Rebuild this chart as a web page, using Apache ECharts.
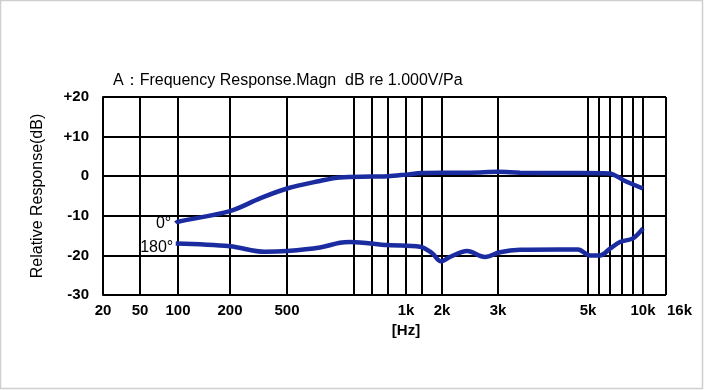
<!DOCTYPE html>
<html><head><meta charset="utf-8">
<script src="https://cdn.jsdelivr.net/npm/echarts@6/dist/echarts.min.js"></script>
<style>html,body{margin:0;padding:0;background:#fff}#c{width:704px;height:390px}</style>
</head><body><div id="c"></div>
<script>
// ---- text ----
const titleText = 'A：Frequency Response.Magn  dB re 1.000V/Pa';
const yAxisName = 'Relative Response(dB)';
const seriesNames = ['0°', '180°'];

// ---- x tick labels (Hz) ----
const xLabelFreqs = [20, 50, 100, 200, 500, 1000, 2000, 3000, 5000, 10000, 16000];
const xLabelTexts = ['20', '50', '100', '200', '500', '1k', '2k', '3k', '5k', '10k', '16k'];
// vertical grid lines (Hz)
const gridFreqs = [50, 100, 200, 500, 700, 800, 900, 1000, 1500, 2000, 3000, 5000, 6000, 7000, 8000, 9000, 10000, 16000];

// ---- y axis (dB) ----
const yMin = -30, yMax = 20, yStep = 10;

// ---- series: 0 degrees ----
const freq0 = [96, 100, 200, 324, 500, 590, 652, 800, 900, 1000, 1500, 2000, 2450, 3000, 3400, 4500, 6900, 8260, 10000];
const db0   = [-11.9, -11.5, -8.8, -5.6, -3.1, -1.2, -0.3, -0.1, 0.0, 0.4, 0.8, 0.9, 0.9, 1.1, 0.9, 0.8, 0.7, -1.2, -3.1];

// ---- series: 180 degrees ----
const freq180 = [96, 200, 351, 500, 590, 652, 686, 900, 1426, 1732, 1971, 2119, 2398, 2730, 3034, 3400, 4266, 4723, 5167, 6084, 7000, 7823, 9000, 10000];
const db180   = [-17.0, -17.7, -19.1, -18.9, -18.0, -16.8, -16.6, -17.4, -17.8, -19.4, -21.5, -20.4, -18.9, -20.4, -19.2, -18.6, -18.5, -18.5, -20.0, -20.0, -18.3, -16.6, -15.7, -13.2];

// ---- the chart's (non-uniform) frequency scale: Hz -> axis units ----
const scaleFreqs = [20, 50, 100, 200, 500, 700, 800, 900, 1000, 1500, 2000, 3000, 5000, 6000, 7000, 8000, 9000, 10000, 16000];
const scaleUnits = [0, 37, 75, 127, 184, 251, 269, 285, 303, 319, 339, 395, 485, 496, 507, 519, 530, 540, 563];

function pos(f) {
  for (let i = 0; i < scaleFreqs.length - 1; i++) {
    const a = scaleFreqs[i], b = scaleFreqs[i + 1];
    if (f <= b || i === scaleFreqs.length - 2) {
      const t = Math.log(f / a) / Math.log(b / a);
      return scaleUnits[i] + t * (scaleUnits[i + 1] - scaleUnits[i]);
    }
  }
}

const FONT = '"Liberation Sans", Arial, sans-serif';
const BLUE = '#1b2ca0';
const LABEL_MARGIN = 6, LABEL_LH = 20;
// all labels but the last sit on the axis; the last (16k) is set just right of the frame
const axisLabelPos = xLabelFreqs.slice(0, -1).map(pos);

const chart = echarts.init(document.getElementById('c'), null, { renderer: 'canvas' });
chart.setOption({
  backgroundColor: '#fff',
  animation: false,
  title: {
    text: titleText, left: 113, top: 73, padding: 0,
    textStyle: { fontFamily: FONT, fontSize: 16, fontWeight: 'normal', color: '#000' }
  },
  grid: { left: 103, right: 38, top: 97, bottom: 95, containLabel: false },
  xAxis: {
    type: 'value', min: pos(20), max: pos(16000),
    axisLine: { show: true, lineStyle: { color: '#000', width: 2 } },
    axisTick: { show: false },
    splitLine: { show: false },
    axisLabel: {
      customValues: axisLabelPos,
      showMaxLabel: true, showMinLabel: true, hideOverlap: false,
      margin: LABEL_MARGIN,
      fontFamily: FONT, fontSize: 15, fontWeight: 'bold', color: '#000', lineHeight: LABEL_LH,
      formatter: function (v) {
        let i = -1, best = 1e9;
        axisLabelPos.forEach((p, k) => { const d = Math.abs(p - v); if (d < best) { best = d; i = k; } });
        const t = xLabelTexts[i];
        return t === '1k' ? '1k\n[Hz]' : t;
      }
    }
  },
  yAxis: {
    type: 'value', min: yMin, max: yMax, interval: yStep,
    name: yAxisName, nameLocation: 'middle', nameGap: 57,
    nameTextStyle: { fontFamily: FONT, fontSize: 16, color: '#000' },
    axisLine: { show: true, lineStyle: { color: '#000', width: 2 } },
    axisTick: { show: false },
    splitLine: { show: true, lineStyle: { color: '#000', width: 2 } },
    axisLabel: {
      margin: 14, fontFamily: FONT, fontSize: 15, fontWeight: 'bold', color: '#000',
      formatter: v => (v > 0 ? '+' + v : String(v))
    }
  },
  series: [
    {
      type: 'line', data: [], z: 1, silent: true,
      markLine: {
        silent: true, symbol: ['none', 'none'], label: { show: false },
        lineStyle: { color: '#000', width: 2, type: 'solid' },
        data: gridFreqs.map(f => ({ xAxis: pos(f) }))
      }
    },
    {
      name: seriesNames[0], type: 'line', z: 5, smooth: 0.35, showSymbol: false,
      lineStyle: { color: BLUE, width: 4.5 },
      data: freq0.map((f, i) => [pos(f), db0[i]]),
      markPoint: {
        symbol: 'circle', symbolSize: 1, itemStyle: { color: 'rgba(0,0,0,0)' },
        data: [{ coord: [pos(freq0[0]), db0[0]] }],
        label: { show: true, position: 'left', distance: 4, formatter: seriesNames[0],
                 fontFamily: FONT, fontSize: 16, color: '#000' }
      }
    },
    {
      name: seriesNames[1], type: 'line', z: 5, smooth: 0.35, showSymbol: false,
      lineStyle: { color: BLUE, width: 4.5 },
      data: freq180.map((f, i) => [pos(f), db180[i]]),
      markPoint: {
        symbol: 'circle', symbolSize: 1, itemStyle: { color: 'rgba(0,0,0,0)' },
        data: [{ coord: [pos(freq180[0]), db180[0]] }],
        label: { show: true, position: 'left', distance: 2, offset: [0, 4], formatter: seriesNames[1],
                 fontFamily: FONT, fontSize: 16, color: '#000' }
      }
    }
  ]
});

// last tick label (16k), placed from the axis' own pixel mapping, left-aligned at the frame edge
const lastX = chart.convertToPixel({ xAxisIndex: 0 }, pos(xLabelFreqs[xLabelFreqs.length - 1]));
const baseY = chart.convertToPixel({ yAxisIndex: 0 }, yMin);
chart.setOption({
  graphic: [
    {
      type: 'text', x: lastX + 1, y: baseY + LABEL_MARGIN + LABEL_LH / 2, silent: true,
      style: { text: xLabelTexts[xLabelTexts.length - 1], fontFamily: FONT, fontSize: 15, fontWeight: 'bold',
               fill: '#000', align: 'left', verticalAlign: 'middle' }
    },
    {
      type: 'rect', shape: { x: 0.5, y: 0.5, width: 702, height: 388 },
      style: { fill: 'none', stroke: '#cfcfcf', lineWidth: 1.5 }, silent: true, z: 100
    }
  ]
});
</script>
</body></html>
